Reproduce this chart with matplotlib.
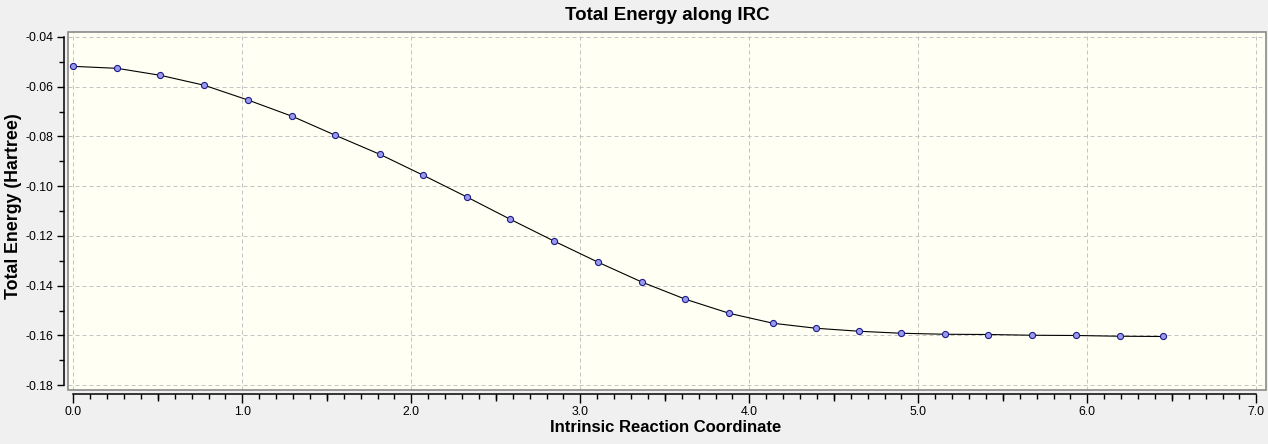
import numpy as np
import matplotlib
matplotlib.use("Agg")
import matplotlib.pyplot as plt
from matplotlib.ticker import MultipleLocator, FormatStrFormatter
from matplotlib.patches import Rectangle

# IRC points
irc_coord = [0.000, 0.260, 0.515, 0.775, 1.036, 1.296, 1.550, 1.815, 2.071,
             2.331, 2.586, 2.846, 3.107, 3.367, 3.621, 3.882, 4.142, 4.396,
             4.651, 4.899, 5.160, 5.414, 5.675, 5.935, 6.195, 6.450]
energy = [-0.0518, -0.0526, -0.0554, -0.0594, -0.0654, -0.0719, -0.0795,
          -0.0872, -0.0956, -0.1044, -0.1133, -0.1221, -0.1306, -0.1386,
          -0.1454, -0.1511, -0.1551, -0.1571, -0.1583, -0.1591, -0.1595,
          -0.1596, -0.1599, -0.1600, -0.1603, -0.1604]

title = "Total Energy along IRC"
xlabel = "Intrinsic Reaction Coordinate"
ylabel = "Total Energy (Hartree)"

plt.rcParams['font.family'] = ['Liberation Sans', 'DejaVu Sans']

fig = plt.figure(figsize=(12.68, 4.44), dpi=100, facecolor='#f0f0f0')
ax = fig.add_axes([68/1268, 1 - 390/444, 1198/1268, 358.3/444])
ax.set_facecolor('#fffff4')

ax.plot(irc_coord, energy, color='black', lw=0.8, marker='o', ms=4.4,
        mfc='#9a9af0', mec='#1c1c85', mew=0.8, zorder=3)

ax.set_xlim(-0.0314, 7.057)
ax.set_ylim(-0.18191, -0.03787)

ax.xaxis.set_major_locator(MultipleLocator(1.0))
ax.xaxis.set_minor_locator(MultipleLocator(0.1))
ax.yaxis.set_major_locator(MultipleLocator(0.02))
ax.yaxis.set_minor_locator(MultipleLocator(0.01))
ax.xaxis.set_major_formatter(FormatStrFormatter('%.1f'))
ax.yaxis.set_major_formatter(FormatStrFormatter('%.2f'))

ax.grid(True, which='major', color='#c4c4c4', lw=0.72, ls=(0, (4, 3)))
ax.set_axisbelow(True)

for s in ['top', 'right']:
    ax.spines[s].set_visible(False)
ax.spines['left'].set_position(('outward', 2.8))
ax.spines['bottom'].set_position(('outward', 2.9))
ax.spines['left'].set_bounds(-0.18, -0.04)
ax.spines['bottom'].set_bounds(0, 7)
ax.spines['left'].set_linewidth(1.1)
ax.spines['bottom'].set_linewidth(1.1)

ax.tick_params(axis='y', which='major', length=5, width=1, pad=2.6, labelsize=8.8)
ax.tick_params(axis='y', which='minor', length=3.6, width=1)
ax.tick_params(axis='x', which='major', length=6.5, width=1, pad=2.2, labelsize=8.8)
ax.tick_params(axis='x', which='minor', length=3.6, width=1)

# medium ticks at the half units
sec = ax.secondary_xaxis('bottom')
sec.spines['bottom'].set_position(('outward', 2.9))
sec.spines['bottom'].set_visible(False)
sec.set_xticks(np.arange(0.5, 7, 1.0))
sec.tick_params(axis='x', length=5, width=1, labelbottom=False)

# grey plot frame
ax.add_patch(Rectangle((0, 0), 1, 1, transform=ax.transAxes, fill=False,
                       edgecolor='#8a8a8a', lw=1.2, clip_on=False, zorder=4))

ax.set_title(title, fontsize=13.5, fontweight='bold', pad=8.4)
ax.set_xlabel(xlabel, fontsize=12, fontweight='bold')
ax.xaxis.set_label_coords(0.499, -0.083)
ax.set_ylabel(ylabel, fontsize=12.8, fontweight='bold')
ax.yaxis.set_label_coords(-0.038, 0.514)

fig.savefig('out.png', dpi=100, facecolor=fig.get_facecolor())
